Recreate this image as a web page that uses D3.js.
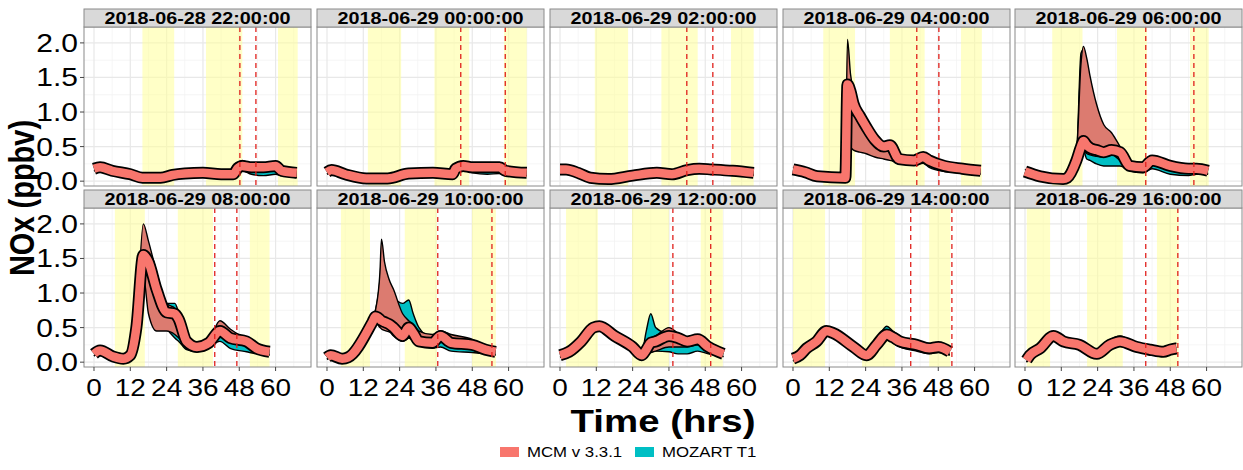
<!DOCTYPE html>
<html>
<head>
<meta charset="utf-8">
<script src="https://cdn.jsdelivr.net/npm/d3@7"></script>
<style>
  body { margin: 0; background: #fff; }
  svg { display: block; font-family: "Liberation Sans", Arial, sans-serif; }
</style>
</head>
<body>
<div id="chart"></div>
<script>
// panel titles (run start times)
const panelTitles = [
  "2018-06-28 22:00:00", "2018-06-29 00:00:00", "2018-06-29 02:00:00",
  "2018-06-29 04:00:00", "2018-06-29 06:00:00", "2018-06-29 08:00:00",
  "2018-06-29 10:00:00", "2018-06-29 12:00:00", "2018-06-29 14:00:00",
  "2018-06-29 16:00:00",
];

const xTicks = [0, 12, 24, 36, 48, 60];
const yTicks = [0, 0.5, 1.0, 1.5, 2.0];
const seriesNames = ["MCM v 3.3.1", "MOZART T1"];

// shaded daytime intervals (hrs) per panel
const dayBands = [
  [[16, 26.5], [37, 49], [60.8, 67.3]],
  [[13.5, 24.5], [35.5, 47], [58.5, 66]],
  [[11.5, 22.5], [33.5, 45.5], [56.5, 64]],
  [[10, 20.5], [32, 43.5], [55.5, 62.4]],
  [[9, 19], [30.4, 40.3], [54.5, 60.7]],
  [[6.9, 16.8], [27.7, 39.3], [51.5, 58]],
  [[4.6, 14.2], [25.7, 36.3], [47.9, 55.8]],
  [[2, 12.5], [23.8, 36], [46.5, 53.8]],
  [[0, 10.6], [22.8, 33.7], [45, 52]],
  [[0.6, 8.3], [20.5, 32.3], [43.6, 50.8]],
];

// red dashed reference times (hrs) per panel
const refLines = [
  [48.2, 53.5], [44.2, 58.9], [41.9, 50.5], [40.9, 48.2], [39.9, 55.8],
  [39.9, 47.2], [36.6, 54.5], [37.3, 49.8], [38.9, 52.5], [39.9, 50.5],
];

// rows: [t, mcm line, mcm min, mcm max, mozart min, mozart max]
const nox2200 = [
  [0, .18, .15, .21, .15, .21], [2, .20, .17, .23, .17, .23], [6, .15, .12, .18, .12, .18],
  [12, .10, .07, .13, .07, .13], [16, .05, .02, .08, .02, .08], [22, .05, .02, .08, .02, .09],
  [26, .09, .06, .12, .07, .14], [30, .11, .08, .14, .08, .13], [36, .12, .09, .15, .09, .15],
  [42, .10, .07, .13, .07, .13], [46, .10, .07, .14, .07, .14], [47.5, .19, .12, .26, .12, .24],
  [49, .22, .15, .30, .15, .28], [52, .20, .14, .25, .10, .22], [56, .20, .14, .25, .08, .20],
  [60, .22, .16, .26, .10, .22], [62, .15, .10, .19, .08, .18], [67, .12, .05, .15, .06, .14],
];
const nox0000 = [
  [0, .13, .10, .16, .10, .16], [1.5, .16, .13, .19, .13, .19], [6, .10, .07, .13, .07, .13],
  [13, .04, .01, .07, .01, .07], [20, .04, .01, .07, .01, .07], [27, .11, .08, .14, .08, .14],
  [35, .12, .09, .15, .09, .15], [41.5, .10, .07, .13, .07, .13], [42.5, .18, .12, .22, .12, .22],
  [45, .22, .17, .28, .17, .27], [48, .20, .15, .24, .12, .22], [53, .20, .15, .24, .10, .22],
  [57, .20, .15, .23, .11, .22], [59, .15, .11, .19, .10, .18], [66, .12, .08, .15, .08, .15],
];
const nox0200 = [
  [0, .17, .14, .20, .14, .20], [2, .17, .14, .20, .14, .20], [6, .12, .09, .15, .09, .15],
  [10, .05, .02, .08, .02, .08], [16, .03, .00, .06, .00, .06], [24, .08, .05, .11, .05, .11],
  [32, .12, .09, .15, .09, .15], [37, .10, .07, .13, .07, .13], [42, .16, .12, .20, .12, .20],
  [46, .18, .14, .22, .14, .22], [50, .17, .13, .21, .12, .20], [57, .15, .11, .18, .11, .18],
  [64, .12, .09, .15, .09, .15],
];
const nox0400 = [
  [0, .17, .14, .20, .14, .20], [4, .13, .10, .16, .10, .16], [8, .07, .04, .10, .04, .10],
  [17.3, .05, .02, .08, .02, .08], [18, 1.40, .85, 2.05, 1.30, 1.60], [19, 1.30, .50, 1.55, 1.20, 1.45],
  [20, 1.12, .45, 1.30, 1.05, 1.28], [22, .95, .42, 1.05, .80, 1.02], [24, .80, .40, .88, .55, .85],
  [27, .60, .35, .66, .42, .64], [30, .50, .32, .55, .36, .50], [32, .52, .30, .56, .32, .48],
  [35, .32, .28, .36, .25, .34], [40, .30, .26, .34, .24, .32], [43, .35, .30, .38, .26, .34],
  [45, .30, .25, .34, .20, .32], [50, .22, .18, .26, .14, .25], [56, .18, .14, .22, .12, .22],
  [62, .15, .11, .18, .10, .18],
];
const nox0600 = [
  [0, .14, .11, .17, .11, .17], [5, .07, .04, .10, .04, .10], [12.6, .03, .00, .06, .00, .06],
  [14, .05, .02, .08, .02, .08], [17, .30, .25, .40, .25, .38], [18.5, .50, .40, 1.70, .42, 1.85],
  [19.3, .58, .45, 1.95, .45, 1.90], [20.4, .52, .40, 1.78, .32, .60], [21.5, .48, .38, 1.52, .30, .55],
  [23.6, .45, .36, 1.12, .25, .50], [26, .42, .35, .82, .22, .46], [28.6, .45, .38, .70, .22, .48],
  [31.4, .42, .30, .50, .22, .45], [34.6, .22, .18, .26, .15, .25], [39, .20, .16, .24, .12, .22],
  [42, .30, .26, .33, .18, .32], [48, .22, .18, .25, .10, .24], [54, .18, .14, .22, .08, .20],
  [56.7, .18, .14, .21, .10, .20], [60.5, .15, .11, .18, .10, .17],
];
const nox0800 = [
  [0, .12, .09, .15, .09, .15], [2, .17, .14, .20, .14, .20], [6.4, .08, .05, .11, .05, .11],
  [9.7, .05, .02, .08, .02, .08], [12, .10, .07, .13, .07, .13], [14, .50, .45, .55, .45, .55],
  [16.3, 1.55, 1.25, 2.00, 1.45, 1.75], [18, 1.45, .70, 1.75, 1.25, 1.60], [20.7, 1.05, .45, 1.30, .90, 1.20],
  [24, .72, .45, .85, .50, .85], [26.7, .70, .40, .78, .35, .85], [28, .62, .35, .70, .30, .72],
  [30.6, .30, .24, .36, .18, .38], [34, .22, .18, .26, .15, .25], [38, .28, .24, .32, .22, .30],
  [41.6, .45, .40, .60, .30, .48], [45, .35, .30, .48, .20, .36], [50.4, .30, .25, .33, .15, .30],
  [53.7, .20, .16, .24, .12, .22], [58, .15, .11, .18, .10, .17],
];
const nox1000 = [
  [0, .07, .04, .10, .04, .10], [1.2, .10, .07, .13, .07, .13], [5, .05, .02, .08, .02, .08],
  [7, .07, .04, .10, .04, .10], [15, .58, .52, .64, .52, .64], [16, .66, .58, .75, .58, .75],
  [17.5, .62, .50, 1.30, .52, 1.20], [18, .60, .48, 1.78, .50, 1.50], [19, .58, .46, 1.45, .48, 1.30],
  [20.5, .55, .44, 1.20, .45, 1.10], [22, .50, .42, 1.05, .38, .95], [25, .38, .34, .70, .30, .85],
  [27, .50, .44, .60, .35, .90], [28.5, .42, .36, .55, .32, .70], [30.4, .30, .26, .45, .25, .50],
  [34.8, .28, .24, .40, .20, .35], [37.5, .38, .33, .45, .22, .40], [41, .28, .24, .40, .16, .30],
  [48, .25, .21, .33, .14, .28], [52.4, .18, .14, .22, .12, .20], [55.7, .15, .11, .18, .10, .17],
];
const nox1200 = [
  [0, .10, .07, .13, .07, .13], [3, .15, .12, .18, .12, .18], [7, .30, .27, .33, .27, .33],
  [11, .50, .47, .54, .47, .54], [13, .52, .48, .55, .48, .55], [18, .38, .34, .41, .34, .41],
  [24, .22, .18, .25, .18, .25], [27, .10, .07, .14, .07, .14], [28.5, .18, .12, .30, .12, .45],
  [30, .28, .14, .35, .15, .70], [31.6, .30, .16, .38, .16, .50], [36, .38, .22, .50, .15, .40],
  [39, .35, .22, .42, .12, .35], [42, .30, .22, .35, .12, .30], [45.5, .33, .25, .38, .16, .34],
  [49, .22, .16, .26, .12, .22], [54, .12, .08, .16, .08, .15],
];
const nox1400 = [
  [0, .05, .02, .08, .02, .08], [2.3, .10, .07, .13, .07, .13], [4.5, .20, .17, .23, .17, .23],
  [7.8, .30, .27, .33, .27, .33], [11, .45, .42, .48, .42, .48], [13.3, .42, .39, .45, .39, .45],
  [20, .22, .19, .25, .19, .25], [24.3, .10, .07, .13, .07, .13], [27.6, .25, .21, .28, .21, .32],
  [31, .40, .35, .45, .35, .52], [33, .36, .30, .42, .28, .45], [35.3, .30, .25, .34, .22, .38],
  [40.8, .25, .21, .28, .16, .28], [45, .20, .16, .24, .12, .24], [48, .22, .18, .25, .14, .24],
  [51.8, .15, .11, .18, .10, .17],
];
const nox1600 = [
  [0.5, .03, .00, .06, .00, .06], [1.6, .10, .07, .13, .07, .13], [5, .20, .17, .23, .17, .23],
  [9.4, .38, .35, .42, .35, .42], [12.7, .30, .27, .33, .27, .33], [18, .25, .22, .28, .22, .28],
  [23.7, .12, .09, .15, .09, .15], [28, .25, .22, .28, .22, .32], [31.4, .30, .27, .34, .27, .38],
  [36.9, .22, .19, .25, .19, .25], [41.3, .18, .15, .21, .10, .20], [45.7, .15, .12, .18, .10, .17],
  [47.9, .18, .14, .21, .12, .20], [50, .20, .12, .28, .15, .22],
];
const panelData = [nox2200, nox0000, nox0200, nox0400, nox0600, nox0800, nox1000, nox1200, nox1400, nox1600];

const MCM = "#F8766D", MCM_FILL = "#dc7b70", MOZ = "#00BFC4";
const SX = 1.2; // text in the original is stretched horizontally

const W = 1243, H = 470;
const colLeft = [84, 317, 550, 783, 1015];
const panelW = 227;
const stripTop = [9, 190], stripH = 18, panelH = 159;

const svg = d3.select("#chart").append("svg").attr("width", W).attr("height", H);

function stext(sel, x, y, str, size, opts = {}) {
  return sel.append("text")
    .attr("transform", `translate(${x},${y}) scale(${opts.sx || SX},1)`)
    .attr("text-anchor", opts.anchor || "middle")
    .style("font-size", size + "px")
    .style("font-weight", opts.bold ? "bold" : "normal")
    .style("fill", opts.fill || "#000")
    .text(str);
}

const x = d3.scaleLinear().domain([-3.3, 71.7]).range([0, panelW]);
const y = d3.scaleLinear().domain([-0.07, 2.23]).range([panelH, 0]);

panelTitles.forEach((title, i) => {
  const row = Math.floor(i / 5), col = i % 5;
  const left = colLeft[col];
  const top = stripTop[row] + stripH;
  const g = svg.append("g").attr("transform", `translate(${left},${top})`);

  // strip
  svg.append("rect").attr("x", left).attr("y", stripTop[row]).attr("width", panelW).attr("height", stripH)
    .attr("fill", "#d9d9d9").attr("stroke", "#8a8a8a").attr("stroke-width", 1);
  stext(svg, left + panelW / 2, stripTop[row] + 14.5, title, 16.5, { bold: true });

  g.append("rect").attr("width", panelW).attr("height", panelH).attr("fill", "#fff");

  const clipId = "clip" + i;
  g.append("clipPath").attr("id", clipId).append("rect").attr("width", panelW).attr("height", panelH);

  // grid
  const minorX = d3.range(-6, 73, 6).filter((v) => !xTicks.includes(v));
  const minorY = [0.25, 0.75, 1.25, 1.75];
  g.append("g").selectAll("line.mx").data(minorX).join("line")
    .attr("x1", (d) => x(d)).attr("x2", (d) => x(d)).attr("y1", 0).attr("y2", panelH)
    .attr("stroke", "#f3f3f3").attr("stroke-width", 0.8).attr("clip-path", `url(#${clipId})`);
  g.append("g").selectAll("line.my").data(minorY).join("line")
    .attr("y1", (d) => y(d)).attr("y2", (d) => y(d)).attr("x1", 0).attr("x2", panelW)
    .attr("stroke", "#f3f3f3").attr("stroke-width", 0.8);
  g.append("g").selectAll("line.gx").data(xTicks).join("line")
    .attr("x1", (d) => x(d)).attr("x2", (d) => x(d)).attr("y1", 0).attr("y2", panelH)
    .attr("stroke", "#e8e8e8").attr("stroke-width", 1.2);
  g.append("g").selectAll("line.gy").data(yTicks).join("line")
    .attr("y1", (d) => y(d)).attr("y2", (d) => y(d)).attr("x1", 0).attr("x2", panelW)
    .attr("stroke", "#e8e8e8").attr("stroke-width", 1.2);

  // daytime shading
  g.append("g").selectAll("rect").data(dayBands[i]).join("rect")
    .attr("x", (d) => x(d[0])).attr("width", (d) => x(d[1]) - x(d[0]))
    .attr("y", 0).attr("height", panelH)
    .attr("fill", "#ffff99").attr("fill-opacity", 0.55);

  const data = panelData[i];
  const plot = g.append("g").attr("clip-path", `url(#${clipId})`);
  const curve = d3.curveMonotoneX;
  const area = (lo, hi) => d3.area().curve(curve).x((d) => x(d[0])).y0((d) => y(d[lo])).y1((d) => y(d[hi]));
  const line = (k) => d3.line().curve(curve).x((d) => x(d[0])).y((d) => y(d[k]));

  // MOZART ribbon
  plot.append("path").attr("d", area(4, 5)(data)).attr("fill", MOZ);
  [4, 5].forEach((k) => plot.append("path").attr("d", line(k)(data))
    .attr("fill", "none").attr("stroke", "#000").attr("stroke-width", 1.4));
  // MCM ribbon
  plot.append("path").attr("d", area(2, 3)(data)).attr("fill", MCM_FILL);
  [2, 3].forEach((k) => plot.append("path").attr("d", line(k)(data))
    .attr("fill", "none").attr("stroke", "#000").attr("stroke-width", 1.4));
  // thick MCM line with black outline
  plot.append("path").attr("d", line(1)(data)).attr("fill", "none")
    .attr("stroke", "#000").attr("stroke-width", 12).attr("stroke-linejoin", "round");
  plot.append("path").attr("d", line(1)(data)).attr("fill", "none")
    .attr("stroke", MCM).attr("stroke-width", 8.5).attr("stroke-linejoin", "round");

  // red dashed reference lines
  g.append("g").selectAll("line").data(refLines[i]).join("line")
    .attr("x1", (d) => x(d)).attr("x2", (d) => x(d)).attr("y1", 0).attr("y2", panelH)
    .attr("stroke", "#e0201c").attr("stroke-width", 1.3).attr("stroke-dasharray", "5,4");

  g.append("rect").attr("width", panelW).attr("height", panelH)
    .attr("fill", "none").attr("stroke", "#8a8a8a").attr("stroke-width", 1);

  // y axis on the left column
  if (col === 0) {
    yTicks.forEach((v) => {
      g.append("line").attr("x1", -4).attr("x2", 0).attr("y1", y(v)).attr("y2", y(v))
        .attr("stroke", "#444").attr("stroke-width", 1);
      stext(g, -6, y(v) + 9, d3.format(".1f")(v), 25, { anchor: "end" });
    });
  }
  // x axis on the bottom row
  if (row === 1) {
    xTicks.forEach((v) => {
      g.append("line").attr("x1", x(v)).attr("x2", x(v)).attr("y1", panelH).attr("y2", panelH + 4)
        .attr("stroke", "#444").attr("stroke-width", 1);
      stext(g, x(v), panelH + 29, String(v), 24.5, { sx: 1.14 });
    });
  }
});

// axis titles
stext(svg, (colLeft[0] + colLeft[4] + panelW) / 2, 432, "Time (hrs)", 32, { bold: true });
svg.append("text")
  .attr("transform", `translate(34,${(stripTop[0] + stripTop[1] + stripH + panelH) / 2 + 10}) scale(${SX},1) rotate(-90)`)
  .attr("text-anchor", "middle").style("font-size", "29px").style("font-weight", "bold")
  .text("NOx (ppbv)");

// legend
const legend = svg.append("g");
const legendItems = [
  { name: seriesNames[0], color: MCM, kx: 500, tx: 527 },
  { name: seriesNames[1], color: MOZ, kx: 635, tx: 662 },
];
legendItems.forEach((d) => {
  legend.append("rect").attr("x", d.kx).attr("y", 447).attr("width", 19).attr("height", 10).attr("fill", d.color);
  stext(legend, d.tx, 457, d.name, 14, { anchor: "start" });
});
</script>
</body>
</html>
